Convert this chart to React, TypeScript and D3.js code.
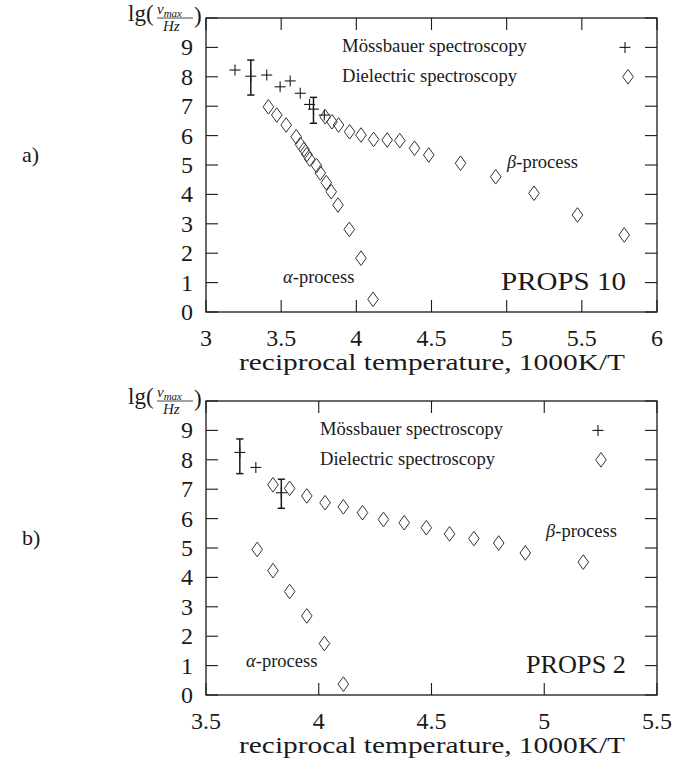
import React from "react";
import * as d3 from "d3";

// ---------- Data: panel a) PROPS 10 ----------
const aMossX = [3.193, 3.298, 3.404, 3.493, 3.56, 3.627, 3.689, 3.715, 3.787];
const aMossY = [8.23, 8.02, 8.06, 7.66, 7.86, 7.44, 7.06, 6.9, 6.7];
const aMossLo = [null, 7.38, null, null, null, null, null, 6.42, null];
const aMossHi = [null, 8.57, null, null, null, null, null, 7.3, null];
const aAlphaX = [3.415, 3.471, 3.533, 3.6, 3.628, 3.652, 3.671, 3.69, 3.735, 3.76, 3.8, 3.833, 3.878, 3.953, 4.031, 4.111];
const aAlphaY = [6.98, 6.7, 6.36, 5.96, 5.7, 5.53, 5.36, 5.2, 4.98, 4.73, 4.4, 4.09, 3.64, 2.81, 1.83, 0.43];
const aBetaX = [3.793, 3.838, 3.882, 3.955, 4.031, 4.115, 4.205, 4.289, 4.387, 4.482, 4.693, 4.927, 5.182, 5.471, 5.782];
const aBetaY = [6.64, 6.47, 6.36, 6.13, 6.02, 5.87, 5.85, 5.83, 5.57, 5.34, 5.06, 4.6, 4.04, 3.3, 2.62];
const aXTicks = [3, 3.5, 4, 4.5, 5, 5.5, 6];
const aXTickLabels = ["3", "3.5", "4", "4.5", "5", "5.5", "6"];

// ---------- Data: panel b) PROPS 2 ----------
const bMossX = [3.65, 3.721, 3.834];
const bMossY = [8.25, 7.74, 6.88];
const bMossLo = [7.53, null, 6.35];
const bMossHi = [8.71, null, 7.34];
const bAlphaX = [3.727, 3.797, 3.871, 3.947, 4.025, 4.109];
const bAlphaY = [4.95, 4.23, 3.52, 2.69, 1.75, 0.37];
const bBetaX = [3.797, 3.871, 3.947, 4.028, 4.109, 4.194, 4.287, 4.379, 4.477, 4.58, 4.688, 4.798, 4.916, 5.173];
const bBetaY = [7.15, 7.03, 6.77, 6.54, 6.4, 6.2, 5.97, 5.86, 5.69, 5.48, 5.32, 5.17, 4.83, 4.52];
const bXTicks = [3.5, 4, 4.5, 5, 5.5];
const bXTickLabels = ["3.5", "4", "4.5", "5", "5.5"];

const yTicks = [0, 1, 2, 3, 4, 5, 6, 7, 8, 9, 10];
const yTickLabels = ["0", "1", "2", "3", "4", "5", "6", "7", "8", "9", ""];

const legendLabels = ["Mössbauer spectroscopy", "Dielectric spectroscopy"];
const xTitle = "reciprocal temperature, 1000K/T";

const SERIF = "Liberation Serif, DejaVu Serif, serif";
const INK = "#1a1a1a";

type PanelProps = {
  top: number;
  xDomain: [number, number];
  xTicks: number[];
  xTickLabels: string[];
  mossX: number[]; mossY: number[]; mossLo: (number | null)[]; mossHi: (number | null)[];
  alphaX: number[]; alphaY: number[];
  betaX: number[]; betaY: number[];
  panelLabel: string;
  propsLabel: string;
  propsWidth: number;
  legendX: number; legendW: number[]; legendSymX: number;
  alphaPos: [number, number]; betaPos: [number, number];
};

const diamond = (cx: number, cy: number) =>
  `M${cx},${cy - 7.3}L${cx + 5.3},${cy}L${cx},${cy + 7.3}L${cx - 5.3},${cy}Z`;

function Plus({ cx, cy }: { cx: number; cy: number }) {
  return (
    <g stroke={INK} strokeWidth={1.1}>
      <line x1={cx - 5.5} x2={cx + 5.5} y1={cy} y2={cy} />
      <line x1={cx} x2={cx} y1={cy - 5.5} y2={cy + 5.5} />
    </g>
  );
}

function Panel(p: PanelProps) {
  const left = 206, right = 657;
  const top = p.top, bottom = p.top + 294;
  const x = d3.scaleLinear().domain(p.xDomain).range([left, right]);
  const y = d3.scaleLinear().domain([0, 10]).range([bottom, top]);
  const tl = 12;
  const txt = { fontFamily: SERIF, fill: INK } as const;
  return (
    <g>
      <rect x={left} y={top} width={right - left} height={bottom - top} fill="none" stroke={INK} strokeWidth={1.3} />
      {p.xTicks.map((t, i) => (
        <g key={"xt" + i}>
          <line x1={x(t)} x2={x(t)} y1={bottom} y2={bottom - tl} stroke={INK} strokeWidth={1.1} />
          <line x1={x(t)} x2={x(t)} y1={top} y2={top + tl} stroke={INK} strokeWidth={1.1} />
          <text x={x(t)} y={bottom + 34} textAnchor="middle" style={{ ...txt, fontSize: 24 }}>{p.xTickLabels[i]}</text>
        </g>
      ))}
      {yTicks.map((t, i) => (
        <g key={"yt" + i}>
          <line x1={left} x2={left + tl} y1={y(t)} y2={y(t)} stroke={INK} strokeWidth={1.1} />
          <line x1={right} x2={right - tl} y1={y(t)} y2={y(t)} stroke={INK} strokeWidth={1.1} />
          <text x={193} y={y(t) + 8} textAnchor="end" style={{ ...txt, fontSize: 24 }}>{yTickLabels[i]}</text>
        </g>
      ))}
      <text x={432} y={bottom + 58} textAnchor="middle" style={{ ...txt, fontSize: 24 }}
        textLength={386} lengthAdjust="spacingAndGlyphs">{xTitle}</text>
      <g>
        <text x={128} y={top + 3} style={{ ...txt, fontSize: 23 }}>lg(</text>
        <text x={157} y={top - 4} style={{ ...txt, fontSize: 15, fontStyle: "italic" }}>v<tspan style={{ fontSize: 11 }} dy={3}>max</tspan></text>
        <line x1={157} x2={193} y1={top} y2={top} stroke={INK} strokeWidth={0.8} />
        <text x={163} y={top + 13} style={{ ...txt, fontSize: 15, fontStyle: "italic" }}>Hz</text>
        <text x={194} y={top + 5} style={{ ...txt, fontSize: 23 }}>)</text>
      </g>
      <text x={22} y={top + 144} style={{ ...txt, fontSize: 22 }}>{p.panelLabel}</text>
      <text x={p.legendX} y={y(9) + 5} style={{ ...txt, fontSize: 18.5 }}
        textLength={p.legendW[0]} lengthAdjust="spacingAndGlyphs">{legendLabels[0]}</text>
      <text x={p.legendX} y={y(8) + 5} style={{ ...txt, fontSize: 18.5 }}
        textLength={p.legendW[1]} lengthAdjust="spacingAndGlyphs">{legendLabels[1]}</text>
      <Plus cx={p.legendSymX} cy={y(9)} />
      <path d={diamond(p.legendSymX + 3, y(8))} fill="none" stroke="#333" strokeWidth={1} />
      <text x={p.alphaPos[0]} y={p.alphaPos[1]} style={{ ...txt, fontSize: 18.5 }}>
        <tspan style={{ fontStyle: "italic" }}>α</tspan>-process
      </text>
      <text x={p.betaPos[0]} y={p.betaPos[1]} style={{ ...txt, fontSize: 18.5 }}>
        <tspan style={{ fontStyle: "italic" }}>β</tspan>-process
      </text>
      <text x={626} y={bottom - 22} textAnchor="end" style={{ ...txt, fontSize: 26 }}
        textLength={p.propsWidth} lengthAdjust="spacingAndGlyphs">{p.propsLabel}</text>
      {p.alphaX.map((v, i) => (
        <path key={"a" + i} d={diamond(x(v), y(p.alphaY[i]))} fill="none" stroke="#333" strokeWidth={1} />
      ))}
      {p.betaX.map((v, i) => (
        <path key={"b" + i} d={diamond(x(v), y(p.betaY[i]))} fill="none" stroke="#333" strokeWidth={1} />
      ))}
      {p.mossX.map((v, i) => {
        const lo = p.mossLo[i], hi = p.mossHi[i];
        return (
          <g key={"m" + i}>
            <Plus cx={x(v)} cy={y(p.mossY[i])} />
            {lo !== null && hi !== null && (
              <g stroke={INK} strokeWidth={1.5}>
                <line x1={x(v)} x2={x(v)} y1={y(lo)} y2={y(hi)} />
                <line x1={x(v) - 3.6} x2={x(v) + 3.6} y1={y(lo)} y2={y(lo)} />
                <line x1={x(v) - 3.6} x2={x(v) + 3.6} y1={y(hi)} y2={y(hi)} />
              </g>
            )}
          </g>
        );
      })}
    </g>
  );
}

export default function App() {
  return (
    <svg width={675} height={768} style={{ display: "block", position: "absolute", left: 0, top: 0 }}>
      <rect width={675} height={768} fill="white" />
      <Panel top={18} xDomain={[3, 6]} xTicks={aXTicks} xTickLabels={aXTickLabels}
        mossX={aMossX} mossY={aMossY} mossLo={aMossLo} mossHi={aMossHi}
        alphaX={aAlphaX} alphaY={aAlphaY} betaX={aBetaX} betaY={aBetaY}
        panelLabel="a)" propsLabel="PROPS 10" propsWidth={125}
        legendX={342} legendW={[185, 175]} legendSymX={625}
        alphaPos={[283, 283]} betaPos={[507, 168]} />
      <Panel top={401} xDomain={[3.5, 5.5]} xTicks={bXTicks} xTickLabels={bXTickLabels}
        mossX={bMossX} mossY={bMossY} mossLo={bMossLo} mossHi={bMossHi}
        alphaX={bAlphaX} alphaY={bAlphaY} betaX={bBetaX} betaY={bBetaY}
        panelLabel="b)" propsLabel="PROPS 2" propsWidth={100}
        legendX={320} legendW={[183, 175]} legendSymX={598}
        alphaPos={[246, 667]} betaPos={[546, 537]} />
    </svg>
  );
}
